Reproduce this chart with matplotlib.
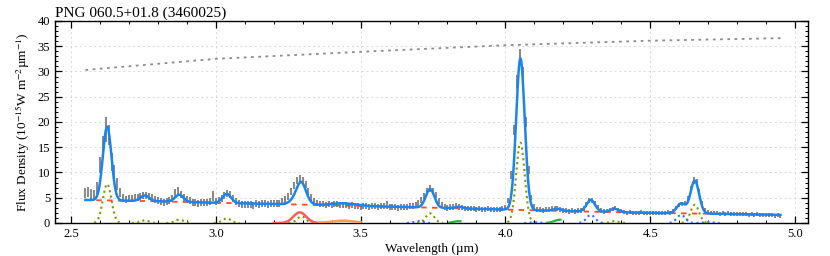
import numpy as np
import matplotlib
matplotlib.use("Agg")
import matplotlib.pyplot as plt
from matplotlib.ticker import MultipleLocator

# observed spectrum, 2.55-4.95 um in 0.01 um bins
wave = np.round(np.arange(2.55, 4.955, 0.01), 3)
flux = [
    6.0, 6.1, 5.8, 5.6, 7.0, 11.5, 15.5, 18.5, 17.5, 12.0,      # 2.55-2.64
    9.8, 7.8, 6.0, 5.0, 4.7, 4.8, 4.9, 5.0, 5.1, 5.3,           # 2.65-2.74
    5.5, 5.4, 5.2, 5.0, 4.6, 4.4, 4.3, 4.0, 4.2, 4.4,           # 2.75-2.84
    4.9, 6.0, 6.3, 5.6, 5.1, 4.6, 4.4, 4.1, 4.0, 3.9,           # 2.85-2.94
    4.0, 4.1, 4.0, 4.2, 5.3, 4.3, 4.4, 4.8, 5.5, 5.9,           # 2.95-3.04
    5.6, 4.9, 4.3, 3.9, 3.7, 3.6, 3.7, 3.6, 3.5, 3.8,           # 3.05-3.14
    3.7, 3.9, 3.8, 3.7, 3.8, 3.9, 3.8, 3.9, 4.2, 4.6,           # 3.15-3.24
    5.3, 6.3, 7.4, 8.4, 8.8, 8.5, 7.6, 6.2, 5.0, 4.3,           # 3.25-3.34
    3.9, 3.7, 3.8, 3.6, 3.7, 3.6, 3.8, 3.7, 3.5, 3.6,           # 3.35-3.44
    3.5, 3.4, 3.6, 3.3, 3.4, 3.2, 3.4, 3.3, 3.2, 3.4,           # 3.45-3.54
    3.3, 3.2, 3.4, 3.3, 3.6, 3.2, 3.1, 3.2, 3.0, 3.1,           # 3.55-3.64
    3.2, 3.1, 3.3, 3.4, 3.6, 3.9, 4.5, 5.4, 6.3, 6.9,           # 3.65-3.74
    6.4, 5.5, 4.4, 3.5, 3.1, 3.0, 3.1, 3.2, 3.3, 3.1,           # 3.75-3.84
    3.0, 2.9, 2.8, 2.9, 2.8, 2.7, 2.8, 2.7, 2.6, 2.8,           # 3.85-3.94
    2.7, 2.6, 2.7, 2.6, 2.8, 3.1, 4.5, 9.5, 18.5, 28.0,         # 3.95-4.04
    32.8, 29.5, 20.0, 10.5, 5.0, 3.2, 2.7, 2.6, 2.5, 2.7,       # 4.05-4.14
    2.6, 2.8, 2.9, 2.8, 2.6, 2.4, 2.5, 2.3, 2.4, 2.3,           # 4.15-4.24
    2.4, 2.5, 2.9, 3.7, 4.4, 4.5, 3.8, 3.0, 2.5, 2.3,           # 4.25-4.34
    2.4, 2.6, 2.8, 2.9, 2.6, 2.3, 2.1, 2.0, 2.1, 2.0,           # 4.35-4.44
    1.9, 2.0, 2.1, 1.9, 2.0, 1.9, 2.0, 2.0, 1.9, 2.0,           # 4.45-4.54
    2.0, 2.1, 2.0, 2.3, 3.0, 3.6, 3.8, 3.9, 4.8, 6.8,           # 4.55-4.64
    8.5, 8.2, 6.2, 4.0, 2.6, 2.1, 1.9, 2.0, 1.9, 1.8,           # 4.65-4.74
    1.9, 1.8, 1.9, 1.8, 1.7, 1.8, 1.7, 1.8, 1.7, 1.6,           # 4.75-4.84
    1.7, 1.6, 1.7, 1.6, 1.5, 1.6, 1.5, 1.6, 1.4, 1.5,           # 4.85-4.94
    1.4,                                                        # 4.95
]
flux_err = [
    1.0, 1.0, 1.0, 1.0, 1.2, 1.6, 1.8, 2.5, 2.0, 1.8,
    1.6, 1.2, 0.9, 0.8, 0.7, 0.7, 0.7, 0.7, 0.7, 0.7,
    0.7, 0.7, 0.7, 0.7, 0.7, 0.7, 0.7, 0.7, 0.7, 0.7,
    0.7, 0.8, 0.8, 0.7, 0.7, 0.7, 0.7, 0.7, 0.7, 0.7,
    0.7, 0.7, 0.7, 0.7, 1.0, 0.7, 0.7, 0.7, 0.7, 0.7,
    0.7, 0.7, 0.7, 0.7, 0.7, 0.7, 0.7, 0.7, 0.7, 0.7,
    0.7, 0.7, 0.7, 0.7, 0.7, 0.7, 0.7, 0.7, 0.7, 0.7,
    0.7, 0.7, 0.7, 0.7, 0.7, 0.7, 0.7, 0.7, 0.7, 0.7,
    0.6, 0.6, 0.6, 0.6, 0.6, 0.6, 0.6, 0.6, 0.6, 0.6,
    0.6, 0.6, 0.6, 0.6, 0.6, 0.6, 0.6, 0.6, 0.6, 0.6,
    0.6, 0.6, 0.6, 0.6, 0.8, 0.6, 0.6, 0.6, 0.6, 0.6,
    0.6, 0.6, 0.6, 0.6, 0.6, 0.6, 0.6, 0.6, 0.6, 0.7,
    0.6, 0.6, 0.6, 0.6, 0.6, 0.6, 0.6, 0.6, 0.6, 0.6,
    0.5, 0.5, 0.5, 0.5, 0.5, 0.5, 0.5, 0.5, 0.5, 0.5,
    0.5, 0.5, 0.5, 0.5, 0.5, 0.5, 0.5, 0.8, 1.0, 1.4,
    1.6, 1.4, 1.0, 0.8, 0.5, 0.5, 0.5, 0.5, 0.5, 0.5,
    0.5, 0.5, 0.5, 0.5, 0.5, 0.5, 0.5, 0.5, 0.5, 0.5,
    0.5, 0.5, 0.5, 0.5, 0.5, 0.5, 0.5, 0.5, 0.5, 0.5,
    0.4, 0.4, 0.4, 0.4, 0.4, 0.4, 0.4, 0.4, 0.4, 0.4,
    0.4, 0.4, 0.4, 0.4, 0.4, 0.4, 0.4, 0.4, 0.4, 0.4,
    0.4, 0.4, 0.4, 0.4, 0.4, 0.4, 0.4, 0.4, 0.5, 0.6,
    0.7, 0.6, 0.5, 0.4, 0.4, 0.4, 0.4, 0.4, 0.4, 0.4,
    0.4, 0.4, 0.4, 0.4, 0.4, 0.4, 0.4, 0.4, 0.4, 0.4,
    0.4, 0.4, 0.4, 0.4, 0.4, 0.4, 0.4, 0.4, 0.4, 0.4,
    0.4,
]

# continuum fit (red dashed)
cont_wave = [2.55, 2.80, 3.00, 3.20, 3.50, 3.80, 4.00, 4.25, 4.50, 4.75, 4.95]
cont_flux = [4.55, 4.30, 4.00, 3.76, 3.37, 2.95, 2.65, 2.30, 2.00, 1.80, 1.60]

# upper grey dotted curve
top_wave = [2.55, 3.00, 3.50, 4.00, 4.50, 4.95]
top_flux = [30.3, 32.5, 33.9, 35.2, 36.1, 36.6]

# emission lines in the fit: centre (um), peak above continuum
line_center = [2.625, 2.755, 2.874, 3.038, 3.296, 3.740, 3.840, 4.052, 4.180, 4.295, 4.377, 4.607, 4.654]
line_peak = [14.6, 1.1, 1.4, 1.8, 2.45, 3.7, 0.3, 30.0, 0.4, 2.3, 0.65, 1.95, 6.5]
line_sigma = 0.0147

# olive dotted components
comp_center = [2.625, 2.755, 2.874, 3.038, 3.296, 3.740, 4.052, 4.377, 4.654]
comp_peak = [7.7, 0.5, 0.65, 0.9, 1.3, 1.9, 15.9, 0.35, 3.6]
# blue dotted components
bcomp_center = [3.700, 4.105, 4.295, 4.607, 4.700]
bcomp_peak = [0.35, 0.15, 1.6, 1.6, 0.2]

# dust features: 3.3 um (red), 3.4 um plateau (orange)
pah_center, pah_peak, pah_sigma = 3.29, 2.1, 0.022
plat_center, plat_peak, plat_sigma = 3.44, 0.45, 0.04
# small green solid pieces
green_center = [3.840, 4.190]
green_peak = [0.35, 0.65]
green_range = [(3.805, 3.845), (4.145, 4.190)]


def gauss(x, c, a, s):
    return a * np.exp(-0.5 * ((x - c) / s) ** 2)


plt.rcParams['font.family'] = ['Liberation Serif', 'DejaVu Serif']
plt.rcParams['mathtext.fontset'] = 'stix'

fig = plt.figure(figsize=(8.3, 2.56), dpi=100)
ax = fig.add_axes([0.0663, 0.129, 0.9072, 0.789])

x = np.linspace(2.55, 4.95, 1500)
model = np.interp(x, cont_wave, cont_flux)
for c, a in zip(line_center, line_peak):
    model = model + gauss(x, c, a, line_sigma)
model = model + gauss(x, pah_center, pah_peak, pah_sigma) + gauss(x, plat_center, plat_peak, plat_sigma)

ax.plot(top_wave, top_flux, ls=(0, (1.5, 2.5)), color='0.55', lw=1.3)
ax.errorbar(wave, flux, yerr=flux_err, fmt='none', ecolor='0.45', elinewidth=1.2, zorder=2)

for c, a in zip(comp_center, comp_peak):
    xc = np.linspace(c - 0.045, c + 0.045, 80)
    ax.plot(xc, gauss(xc, c, a, line_sigma), ls=(0, (1, 1.6)), color='#7a9a00', lw=1.5, zorder=3)
for c, a in zip(bcomp_center, bcomp_peak):
    xc = np.linspace(c - 0.04, c + 0.04, 80)
    ax.plot(xc, gauss(xc, c, a, line_sigma), ls=(0, (1, 1.6)), color='#2f6fff', lw=1.5, zorder=3)

xp = np.linspace(3.20, 3.375, 100)
ax.plot(xp, gauss(xp, pah_center, pah_peak, pah_sigma), color='#ff5a5a', lw=1.8, zorder=3)
xo = np.linspace(3.36, 3.50, 100)
ax.plot(xo, gauss(xo, plat_center, plat_peak, plat_sigma), color='#ff9a55', lw=1.8, zorder=3)
for c, a, (x0, x1) in zip(green_center, green_peak, green_range):
    xg = np.linspace(x0, x1, 40)
    ax.plot(xg, gauss(xg, c, a, 0.02), color='#22b040', lw=1.6, zorder=3)

ax.plot(cont_wave, cont_flux, ls=(0, (3, 3)), color='#ff4a20', lw=1.3, zorder=4)
ax.plot(x, model, color='#1a84f0', lw=1.8, zorder=5)

ax.set_xlim(2.445, 5.045)
ax.set_ylim(0, 40)
ax.xaxis.set_major_locator(MultipleLocator(0.5))
ax.xaxis.set_minor_locator(MultipleLocator(0.1))
ax.yaxis.set_major_locator(MultipleLocator(5))
ax.yaxis.set_minor_locator(MultipleLocator(1))
ax.xaxis.set_major_formatter(plt.FormatStrFormatter('%.1f'))
ax.tick_params(which='both', direction='in', top=True, right=True, labelsize=9)
ax.tick_params(which='major', length=5, width=0.9)
ax.tick_params(which='minor', length=2.5, width=0.7)
ax.grid(True, which='major', ls=(0, (2, 3)), color='0.85', lw=0.7)
ax.set_axisbelow(True)
for s in ax.spines.values():
    s.set_linewidth(1.0)

ax.set_xlabel('Wavelength (µm)', fontsize=9.5, labelpad=2)
ax.set_ylabel(r'Flux Density (10$^{-15}$W m$^{-2}$µm$^{-1}$)', fontsize=9.5, labelpad=4)
ax.set_title('PNG 060.5+01.8 (3460025)', loc='left', fontsize=11, pad=3)

fig.savefig('out.png', dpi=100)
